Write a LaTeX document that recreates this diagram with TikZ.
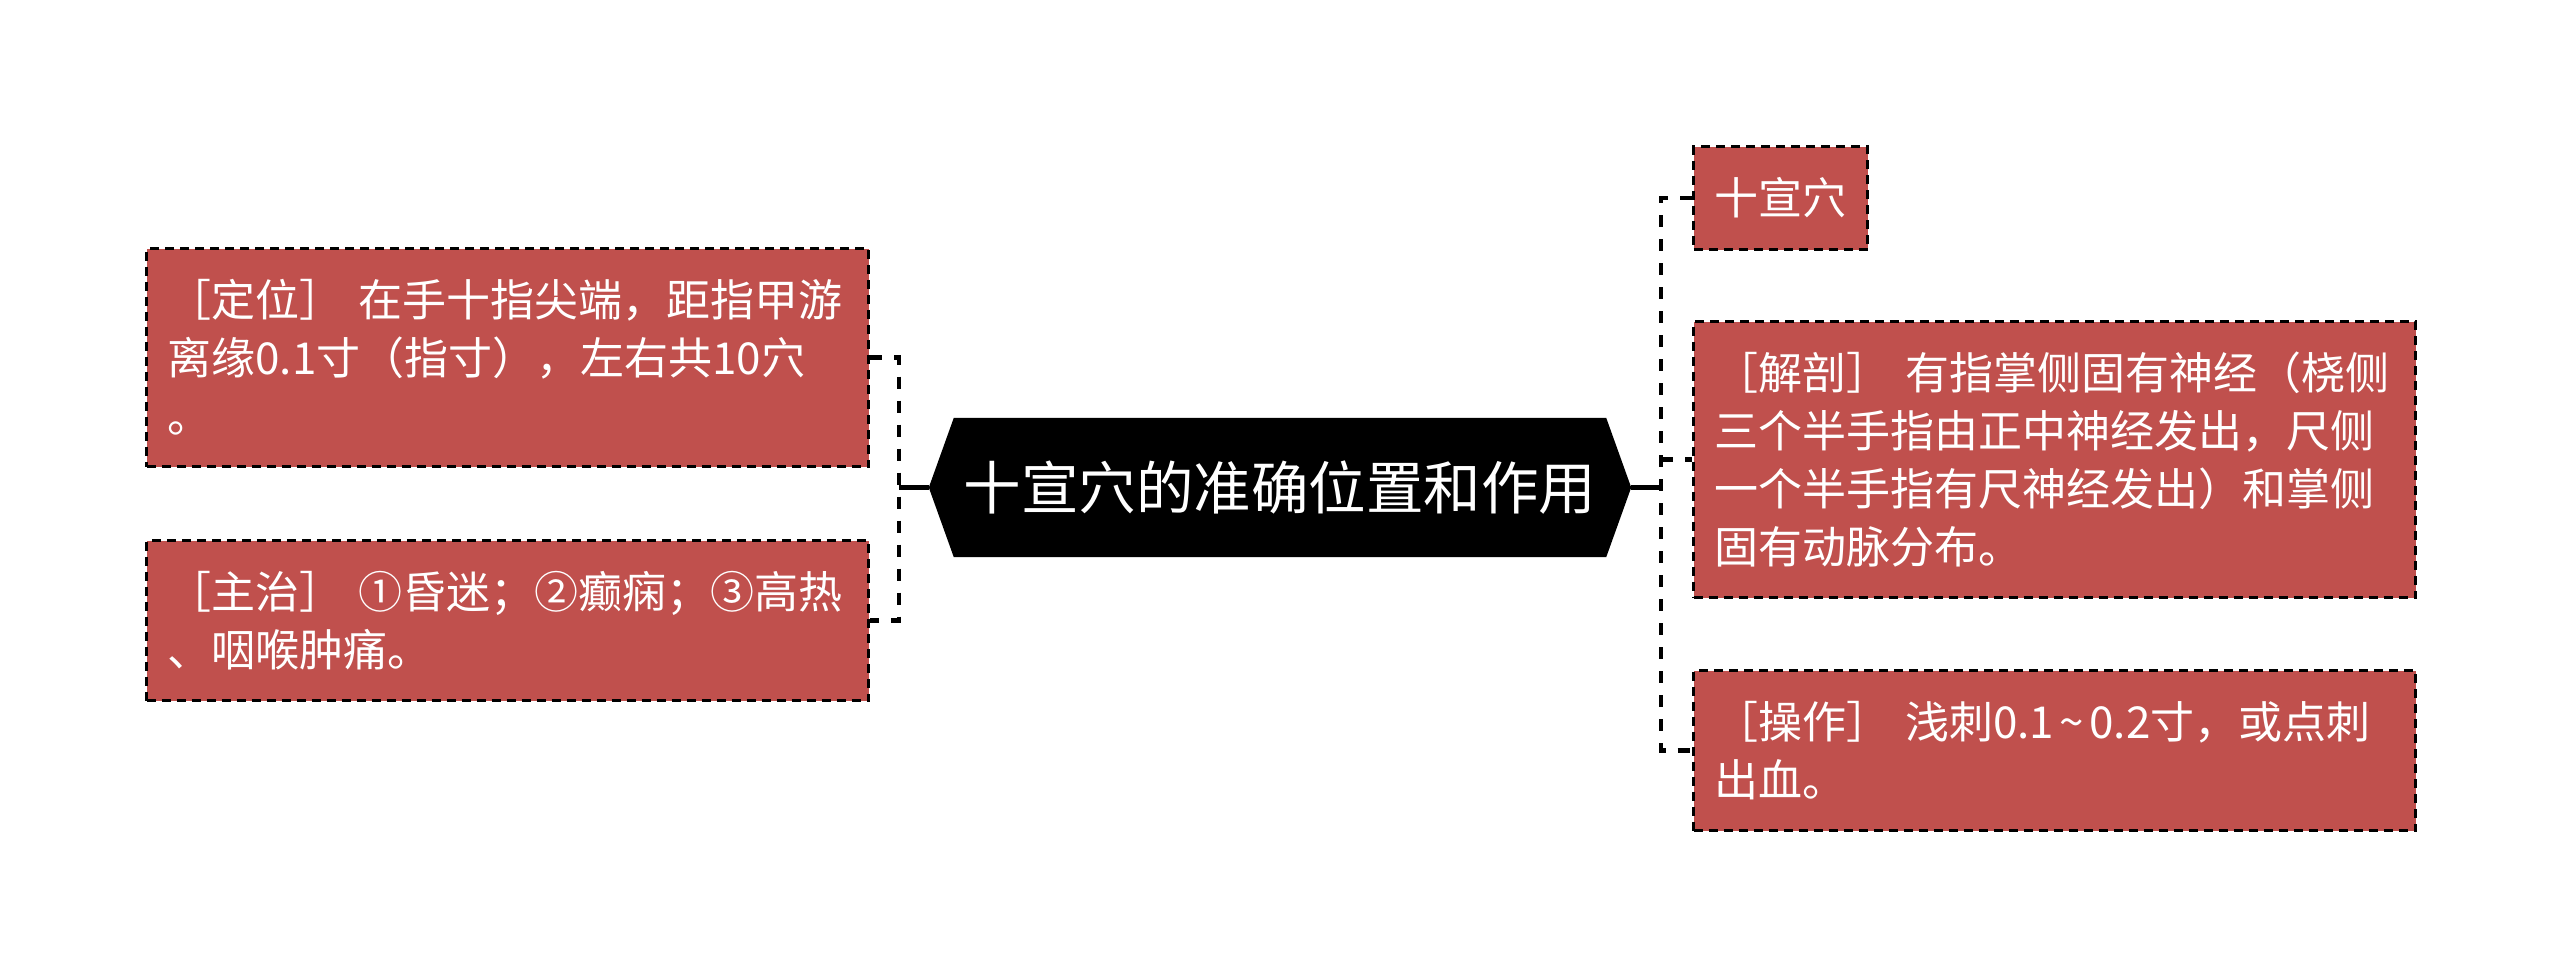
\documentclass[tikz,border=0pt]{standalone}
\usepackage{fontspec}
\setmainfont{Noto Sans CJK SC}
\usetikzlibrary{backgrounds}
\definecolor{boxred}{RGB}{192,80,77}
\begin{document}
\begin{tikzpicture}[x=1pt,y=-1pt,
  leaf/.style={draw=black, line width=3pt, dash pattern=on 9pt off 6pt, fill=boxred, text=white,
    font=\fontsize{44}{58}\selectfont, inner xsep=21pt, inner ysep=0pt, align=left, anchor=north west},
  conn/.style={line width=4.5pt, dash pattern=on 12pt off 12pt},
  link/.style={line width=4.5pt},
  hub/.style={minimum width=702pt, minimum height=139pt, inner sep=0pt, text=white,
    font=\fontsize{57.5}{60}\selectfont}]
\useasboundingbox (0,0) rectangle (2560,975);
\node[hub] (hub) at (1280,487.5) {十宣穴的准确位置和作用};
\begin{pgfonlayer}{background}
\fill[white] (0,0) rectangle (2560,975);
\fill[black] (hub.west) -- ([xshift=25pt]hub.north west) -- ([xshift=-25pt]hub.north east) -- (hub.east)
  -- ([xshift=-25pt]hub.south east) -- ([xshift=25pt]hub.south west) -- cycle;
\end{pgfonlayer}
\node[leaf, text width=680pt, minimum height=218pt] (L1) at (145,247) {［定位］ 在手十指尖端，距指甲游\\离缘0.1寸（指寸），左右共10穴\\。};
\node[leaf, text width=680pt, minimum height=160pt] (L2) at (145,539) {［主治］ ①昏迷；②癫痫；③高热\\、咽喉肿痛。};
\node[leaf, minimum width=174pt, minimum height=103pt, align=center] (R1) at (1692,145) {十宣穴};
\node[leaf, text width=680pt, minimum height=276pt] (R2) at (1692,320) {［解剖］ 有指掌侧固有神经（桡侧\\三个半手指由正中神经发出，尺侧\\一个半手指有尺神经发出）和掌侧\\固有动脉分布。};
\node[leaf, text width=680pt, minimum height=160pt] (R3) at (1692,669) {［操作］ 浅刺0.1\makebox[0.8em]{\textasciitilde}0.2寸，或点刺\\出血。};
\coordinate (lt) at (899,487.5);
\coordinate (rt) at (1661,487.5);
\draw[conn] (L1.east) -| (lt) |- (L2.east);
\draw[link] (lt) -- (hub.west);
\draw[conn] (R1.west) -| (rt) |- (R3.west);
\draw[conn] (rt |- R2.west) -- (R2.west);
\draw[link] (hub.east) -- (rt);
\end{tikzpicture}
\end{document}
